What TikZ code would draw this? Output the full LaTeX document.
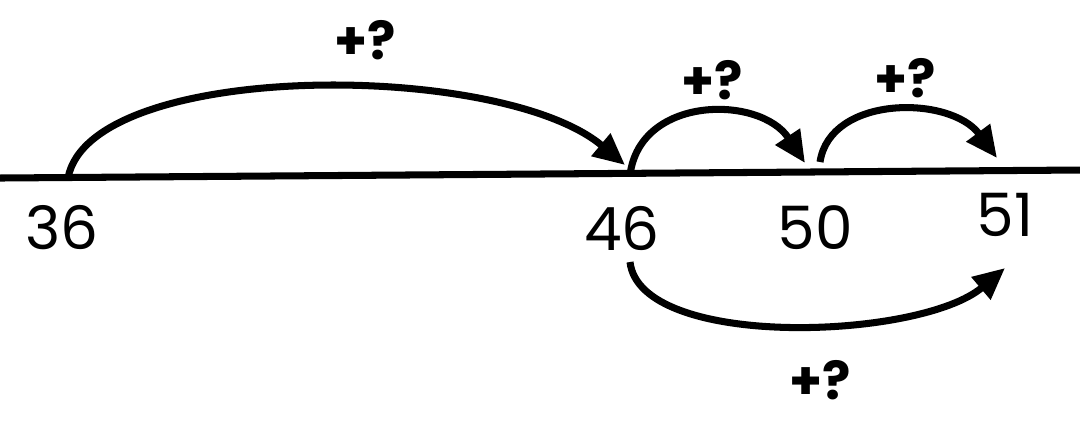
\documentclass[tikz,border=0pt]{standalone}
\usepackage{fontspec}
\setmainfont{Poppins}
\usetikzlibrary{arrows.meta}
\begin{document}
\begin{tikzpicture}[x=0.01cm,y=-0.01cm,
    jump/.style={line width=2pt,-{Triangle[length=9pt,width=8pt]}},
    num/.style={font=\fontsize{17}{20}\selectfont},
    ask/.style={font=\bfseries\fontsize{15}{18}\selectfont}]
    \useasboundingbox (0,0) rectangle (1080,423);
    \path
        (0,178)    coordinate (left)
        (1080,170) coordinate (right)
        (68,178)   coordinate (p36)
        (630,175)  coordinate (p46)
        (820,162)  coordinate (p50)
        (630,262)  coordinate (b46)
        (625,165)  coordinate (t46)
        (805,163)  coordinate (t50)
        (997,158)  coordinate (t51)
        (1005,268) coordinate (b51)
    ;
    \node[num] (n36) at (62,228)   {36};
    \node[num] (n46) at (622,228)  {46};
    \node[num] (n50) at (815,228)  {50};
    \node[num] (n51) at (1005,215) {51};
    \node[ask] (q1) at (365,40)  {+?};
    \node[ask] (q2) at (712,80)  {+?};
    \node[ask] (q3) at (905,78)  {+?};
    \node[ask] (q4) at (820,380) {+?};
    \draw[line width=2pt] (left) -- (right);
    \draw[jump] (p36) .. controls (90,60) and (500,60) .. (t46);
    \draw[jump] (p46) .. controls (640,95) and (760,95) .. (t50);
    \draw[jump] (p50) .. controls (830,95) and (950,95) .. (t51);
    \draw[jump] (b46) .. controls (640,350) and (920,340) .. (b51);
\end{tikzpicture}
\end{document}
